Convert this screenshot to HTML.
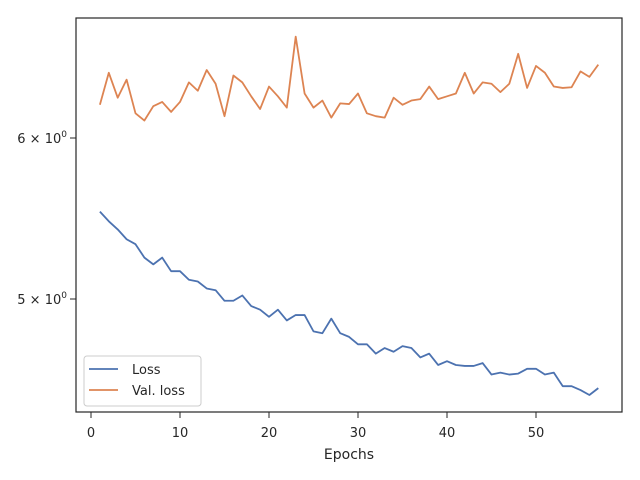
<!DOCTYPE html>
<html><head><meta charset="utf-8"><style>body{margin:0;background:#fff}svg{display:block;font-family:"DejaVu Sans","Liberation Sans",sans-serif}</style></head>
<body>
<svg id="chart" width="640" height="480" viewBox="0 0 640 480">
<rect width="640" height="480" fill="#fff"/>
<g id="plot"></g>
</svg>
<script>
const epochs = Array.from({length:57},(_,i)=>i+1);
const lossValues = [5.52,5.46,5.41,5.35,5.32,5.24,5.20,5.24,5.16,5.16,5.11,5.10,5.06,5.05,4.99,4.99,5.02,4.96,4.94,4.90,4.94,4.88,4.91,4.91,4.82,4.81,4.89,4.81,4.79,4.75,4.75,4.70,4.73,4.71,4.74,4.73,4.68,4.70,4.64,4.66,4.64,4.635,4.635,4.65,4.59,4.60,4.59,4.595,4.62,4.62,4.59,4.60,4.53,4.53,4.51,4.485,4.52];
const valLossValues = [6.23,6.46,6.28,6.41,6.17,6.12,6.22,6.25,6.18,6.25,6.39,6.33,6.48,6.38,6.15,6.44,6.39,6.29,6.20,6.36,6.29,6.21,6.73,6.31,6.21,6.26,6.14,6.24,6.235,6.31,6.17,6.15,6.14,6.28,6.23,6.26,6.27,6.36,6.27,6.29,6.31,6.46,6.31,6.39,6.38,6.32,6.38,6.60,6.35,6.51,6.46,6.36,6.35,6.355,6.47,6.43,6.52];
const xTicks = [0,10,20,30,40,50];
const yTicks = [6,5];
const yTickLabels = ["6","5"];

const L=76,R=622,T=18,B=412;
const ns="http://www.w3.org/2000/svg";
const g=document.getElementById('plot');
function x(v){return 91+(v-0)*(536-91)/50;}
function y(v){return 299-(Math.log10(v)-Math.log10(5))*161/(Math.log10(6)-Math.log10(5));}
function mk(tag,attrs,parent){const e=document.createElementNS(ns,tag);for(const k in attrs)e.setAttribute(k,attrs[k]);(parent||g).appendChild(e);return e;}

xTicks.forEach(t=>{
  const ln=mk('line',{x1:x(t),x2:x(t),y1:B,y2:B+6,stroke:'#262626','stroke-width':1});
  
  
  const tx=mk('text',{x:x(t),y:B+25,'text-anchor':'middle','font-size':13,fill:'#262626'});
  tx.textContent=t;
  
  
});
yTicks.forEach((t,i)=>{
  const ln=mk('line',{x1:L-6,x2:L,y1:y(t),y2:y(t),stroke:'#262626','stroke-width':1});
  
  
  const tx=mk('text',{x:L-9,y:y(t)+5,'text-anchor':'end','font-size':13,fill:'#262626'});
  tx.innerHTML=yTickLabels[i]+' × 10<tspan dy="-6" font-size="9">0</tspan>';
  
  
});

function line(vals,color,name){
  const p=mk('polyline',{points:vals.map((v,i)=>x(epochs[i])+','+y(v)).join(' '),fill:'none',stroke:color,'stroke-width':1.8,'stroke-linejoin':'round'});
  
  
}
line(lossValues,'#4c72b0','loss-line');
line(valLossValues,'#dd8452','val-loss-line');

const frame=mk('rect',{x:L,y:T,width:R-L,height:B-T,fill:'none',stroke:'#262626','stroke-width':1.2});



const xl=mk('text',{x:(L+R)/2,y:459,'text-anchor':'middle','font-size':14,fill:'#262626'});
xl.textContent='Epochs';



const lg=mk('g',{});


mk('rect',{x:84,y:356,width:117,height:50,rx:3,fill:'#fff','fill-opacity':0.8,stroke:'#ccc'},lg);
[['Loss','#4c72b0',369],['Val. loss','#dd8452',390]].forEach(([lab,c,yy])=>{
  mk('line',{x1:89,x2:118,y1:yy,y2:yy,stroke:c,'stroke-width':1.8},lg);
  const t=mk('text',{x:132,y:yy+5,'font-size':13,fill:'#262626'},lg);
  t.textContent=lab;
  
  
});
</script>
</body></html>
